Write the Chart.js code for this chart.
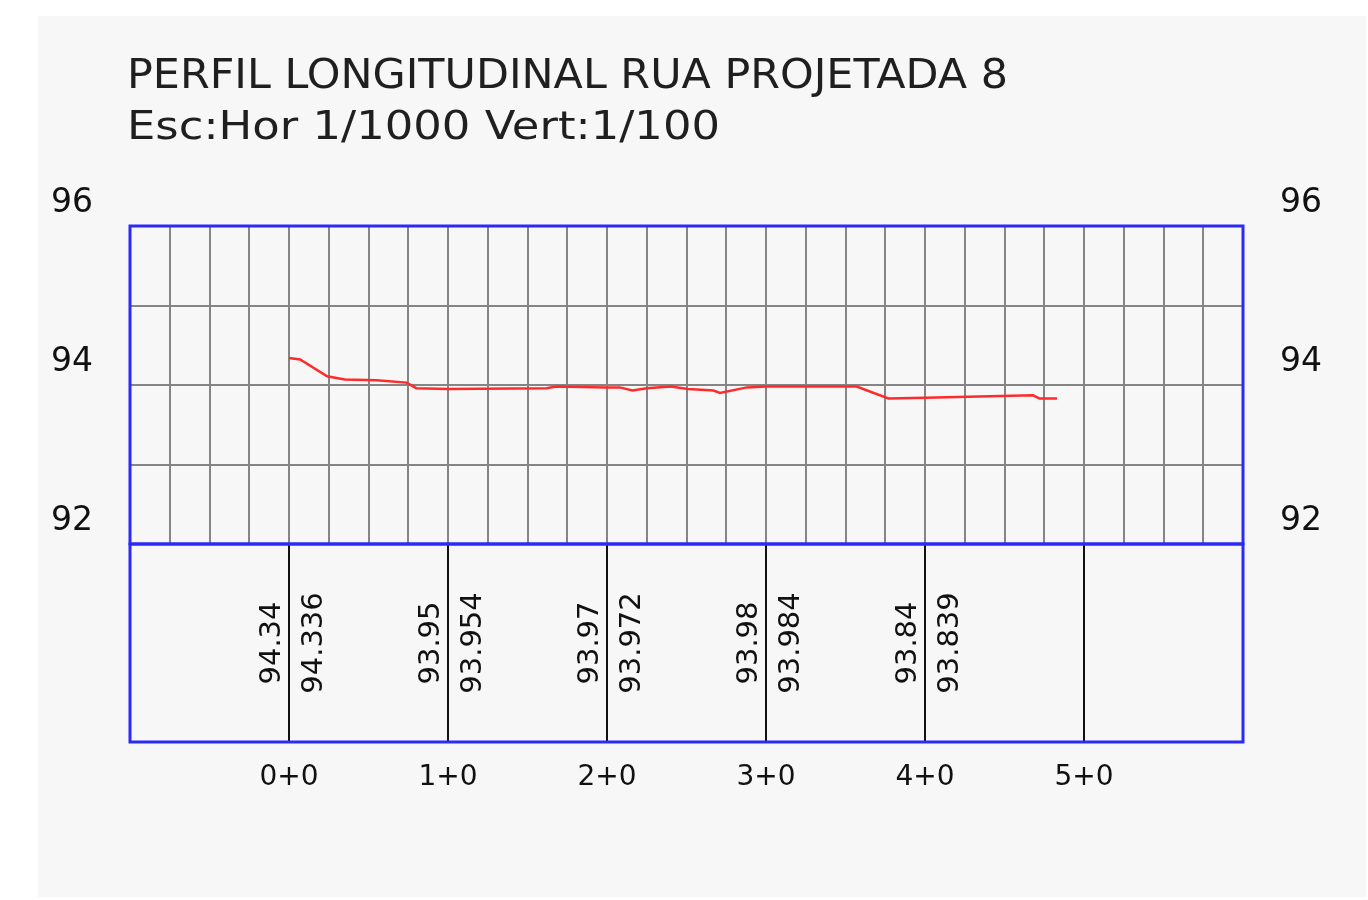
<!DOCTYPE html>
<html>
<head>
<meta charset="utf-8">
<script src="https://cdn.jsdelivr.net/npm/chart.js@4/dist/chart.umd.min.js"></script>
<style>
html,body{margin:0;padding:0;background:#ffffff;}
#wrap{position:absolute;left:0;top:0;width:1368px;height:900px;}
</style>
</head>
<body>
<div id="wrap"><canvas id="c" width="1368" height="900"></canvas></div>
<script>
// ---- data ----
const titleLine1 = "PERFIL LONGITUDINAL RUA PROJETADA 8";
const titleLine2 = "Esc:Hor 1/1000 Vert:1/100";
const stations = [0, 7, 24, 35, 55, 74, 80, 100, 162, 168, 200, 208, 216, 225, 240, 251, 267, 271, 288, 300, 357, 377, 400, 468, 472, 483];
const elevations = [94.34, 94.32, 94.11, 94.07, 94.06, 94.03, 93.96, 93.95, 93.96, 93.98, 93.97, 93.97, 93.93, 93.96, 93.98, 93.95, 93.93, 93.90, 93.97, 93.98, 93.98, 93.83, 93.84, 93.87, 93.83, 93.83];
const markerStations = [0, 100, 200, 300, 400, 500];
const terrainLabels = ["94.34", "93.95", "93.97", "93.98", "93.84", ""];
const gradeLabels = ["94.336", "93.954", "93.972", "93.984", "93.839", ""];
const stationTickLabels = ["0+0", "1+0", "2+0", "3+0", "4+0", "5+0"];
const yLabelValues = [92, 94, 96];

const FONT = '"DejaVu Sans", "Liberation Sans", sans-serif';
const BLUE = '#2b2bf7';
const GRID = '#858585';

const bgPlugin = {
  id: 'bg',
  beforeDraw(chart) {
    const ctx = chart.ctx;
    ctx.save();
    ctx.fillStyle = '#ffffff';
    ctx.fillRect(0, 0, chart.width, chart.height);
    ctx.fillStyle = '#f7f7f7';
    ctx.fillRect(38, 16, 1328, 881);
    ctx.fillStyle = '#1f1f1f';
    ctx.textBaseline = 'alphabetic';
    ctx.textAlign = 'left';
    const drawFit = (txt, x, y, size, width) => {
      ctx.font = size + 'px ' + FONT;
      const w = ctx.measureText(txt).width;
      ctx.save();
      ctx.translate(x, y);
      ctx.scale(width / w, 1);
      ctx.fillText(txt, 0, 0);
      ctx.restore();
    };
    drawFit(titleLine1, 127, 88, 40, 881);
    drawFit(titleLine2, 127, 139, 39, 593);
    ctx.restore();
  }
};

const bandPlugin = {
  id: 'band',
  afterDraw(chart) {
    const ctx = chart.ctx;
    const a = chart.chartArea;
    const xs = chart.scales.x;
    const bandBottom = a.bottom + 198;
    ctx.save();
    ctx.strokeStyle = '#111111';
    ctx.lineWidth = 2;
    markerStations.forEach((s) => {
      const px = Math.round(xs.getPixelForValue(s));
      ctx.beginPath();
      ctx.moveTo(px, a.bottom);
      ctx.lineTo(px, bandBottom);
      ctx.stroke();
    });
    ctx.fillStyle = '#111111';
    ctx.font = '29px ' + FONT;
    ctx.textAlign = 'center';
    ctx.textBaseline = 'alphabetic';
    markerStations.forEach((s, i) => {
      const px = xs.getPixelForValue(s);
      const midY = a.bottom + 99;
      if (terrainLabels[i]) {
        ctx.save();
        ctx.translate(px - 9, midY);
        ctx.rotate(-Math.PI / 2);
        ctx.fillText(terrainLabels[i], 0, 0);
        ctx.restore();
      }
      if (gradeLabels[i]) {
        ctx.save();
        ctx.translate(px + 33, midY);
        ctx.rotate(-Math.PI / 2);
        ctx.fillText(gradeLabels[i], 0, 0);
        ctx.restore();
      }
    });
    ctx.strokeStyle = BLUE;
    ctx.lineWidth = 3;
    ctx.strokeRect(a.left, a.top, a.right - a.left, a.bottom - a.top);
    ctx.strokeRect(a.left, a.bottom, a.right - a.left, bandBottom - a.bottom);
    ctx.restore();
  }
};

new Chart(document.getElementById('c'), {
  type: 'line',
  data: {
    datasets: [{
      data: stations.map((s, i) => ({ x: s, y: elevations[i] })),
      borderColor: '#ff2b2b',
      borderWidth: 2.5,
      pointRadius: 0,
      tension: 0,
      fill: false
    }]
  },
  options: {
    responsive: false,
    animation: false,
    layout: { padding: { top: 226, left: 0, right: 0, bottom: 0 } },
    plugins: { legend: { display: false }, tooltip: { enabled: false }, title: { display: false } },
    scales: {
      x: {
        type: 'linear',
        min: -100,
        max: 600,
        afterFit(scale) { scale.height = 356; },
        border: { display: false },
        grid: { color: GRID, lineWidth: 2, drawTicks: true, tickLength: 217, tickColor: 'rgba(0,0,0,0)' },
        ticks: {
          stepSize: 25,
          autoSkip: false,
          maxRotation: 0,
          padding: 0,
          color: '#111111',
          font: { family: FONT, size: 28 },
          callback(v) {
            const i = markerStations.indexOf(v);
            return i >= 0 ? stationTickLabels[i] : '';
          }
        }
      },
      y: {
        position: 'left',
        min: 92,
        max: 96,
        afterFit(scale) { scale.width = 130; },
        border: { display: false },
        grid: { color: GRID, lineWidth: 2, drawTicks: false },
        ticks: {
          stepSize: 1,
          padding: 37,
          labelOffset: -23,
          color: '#111111',
          font: { family: FONT, size: 33 },
          callback(v) { return yLabelValues.includes(v) ? String(v) : ''; }
        }
      },
      y2: {
        position: 'right',
        min: 92,
        max: 96,
        afterFit(scale) { scale.width = 125; },
        border: { display: false },
        grid: { display: false, drawTicks: false },
        ticks: {
          stepSize: 1,
          padding: 37,
          labelOffset: -23,
          color: '#111111',
          font: { family: FONT, size: 33 },
          callback(v) { return yLabelValues.includes(v) ? String(v) : ''; }
        }
      }
    }
  },
  plugins: [bgPlugin, bandPlugin]
});
</script>
</body>
</html>
